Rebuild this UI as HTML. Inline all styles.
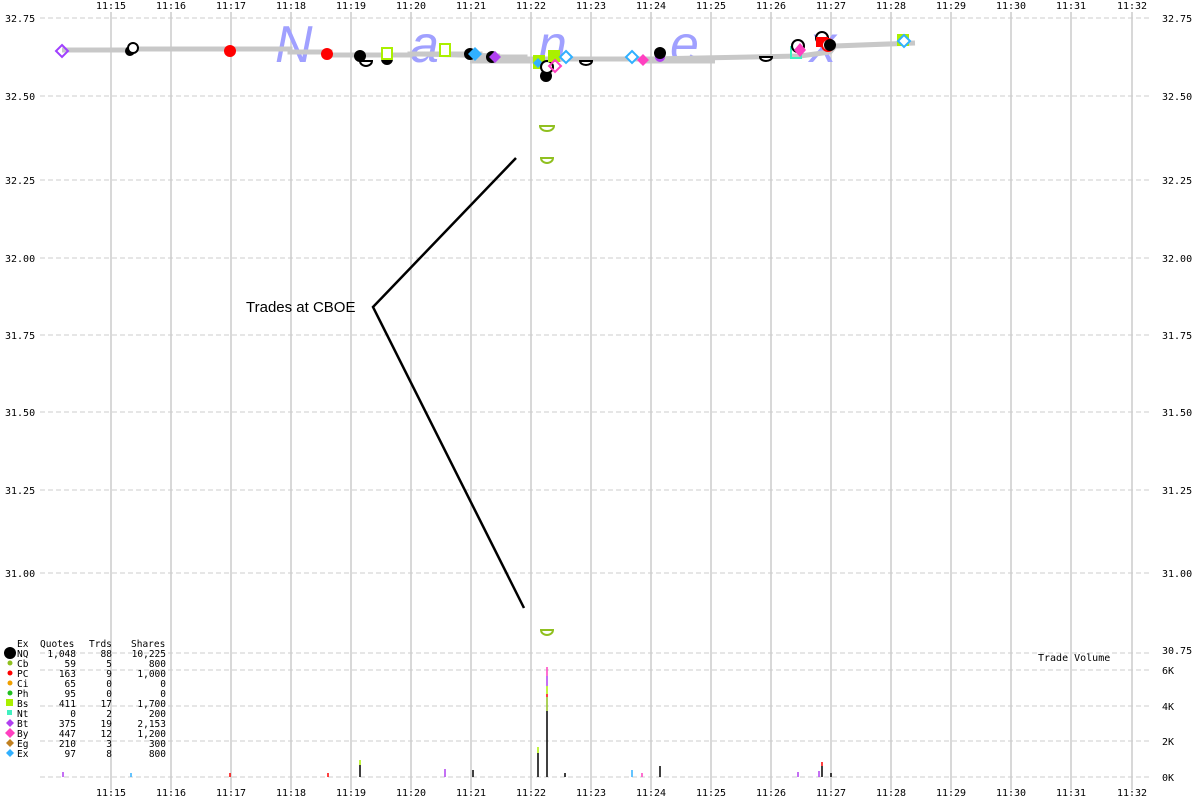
<!DOCTYPE html>
<html><head><meta charset="utf-8"><style>
body{margin:0;background:#fff;}
svg{display:block;font-family:"DejaVu Sans Mono","Liberation Mono",monospace;}
</style></head><body>
<svg width="1200" height="800" viewBox="0 0 1200 800" xmlns="http://www.w3.org/2000/svg">
<rect width="1200" height="800" fill="#fff"/>
<g stroke="#ccc" stroke-width="1.5">
<line x1="111" y1="12" x2="111" y2="790"/><line x1="171" y1="12" x2="171" y2="790"/><line x1="231" y1="12" x2="231" y2="790"/><line x1="291" y1="12" x2="291" y2="790"/><line x1="351" y1="12" x2="351" y2="790"/><line x1="411" y1="12" x2="411" y2="790"/><line x1="471" y1="12" x2="471" y2="790"/><line x1="531" y1="12" x2="531" y2="790"/><line x1="591" y1="12" x2="591" y2="790"/><line x1="651" y1="12" x2="651" y2="790"/><line x1="711" y1="12" x2="711" y2="790"/><line x1="771" y1="12" x2="771" y2="790"/><line x1="831" y1="12" x2="831" y2="790"/><line x1="891" y1="12" x2="891" y2="790"/><line x1="951" y1="12" x2="951" y2="790"/><line x1="1011" y1="12" x2="1011" y2="790"/><line x1="1071" y1="12" x2="1071" y2="790"/><line x1="1132" y1="12" x2="1132" y2="790"/>
</g>
<g stroke="#ccc" stroke-width="1" stroke-dasharray="5,3">
<line x1="40" y1="18" x2="1152" y2="18"/><line x1="40" y1="96" x2="1152" y2="96"/><line x1="40" y1="180" x2="1152" y2="180"/><line x1="40" y1="258" x2="1152" y2="258"/><line x1="40" y1="335" x2="1152" y2="335"/><line x1="40" y1="412" x2="1152" y2="412"/><line x1="40" y1="490" x2="1152" y2="490"/><line x1="40" y1="573" x2="1152" y2="573"/><line x1="40" y1="653" x2="1152" y2="653"/>
<line x1="40" y1="670" x2="1152" y2="670"/><line x1="40" y1="706" x2="1152" y2="706"/><line x1="40" y1="741" x2="1152" y2="741"/><line x1="40" y1="777" x2="1152" y2="777"/>
</g>
<g font-size="10" fill="#000" text-anchor="middle">
<text x="111" y="9">11:15</text><text x="171" y="9">11:16</text><text x="231" y="9">11:17</text><text x="291" y="9">11:18</text><text x="351" y="9">11:19</text><text x="411" y="9">11:20</text><text x="471" y="9">11:21</text><text x="531" y="9">11:22</text><text x="591" y="9">11:23</text><text x="651" y="9">11:24</text><text x="711" y="9">11:25</text><text x="771" y="9">11:26</text><text x="831" y="9">11:27</text><text x="891" y="9">11:28</text><text x="951" y="9">11:29</text><text x="1011" y="9">11:30</text><text x="1071" y="9">11:31</text><text x="1132" y="9">11:32</text>
<text x="111" y="796">11:15</text><text x="171" y="796">11:16</text><text x="231" y="796">11:17</text><text x="291" y="796">11:18</text><text x="351" y="796">11:19</text><text x="411" y="796">11:20</text><text x="471" y="796">11:21</text><text x="531" y="796">11:22</text><text x="591" y="796">11:23</text><text x="651" y="796">11:24</text><text x="711" y="796">11:25</text><text x="771" y="796">11:26</text><text x="831" y="796">11:27</text><text x="891" y="796">11:28</text><text x="951" y="796">11:29</text><text x="1011" y="796">11:30</text><text x="1071" y="796">11:31</text><text x="1132" y="796">11:32</text>
</g>
<g font-size="10" fill="#000">
<text x="5" y="22">32.75</text><text x="5" y="100">32.50</text><text x="5" y="184">32.25</text><text x="5" y="262">32.00</text><text x="5" y="339">31.75</text><text x="5" y="416">31.50</text><text x="5" y="494">31.25</text><text x="5" y="577">31.00</text>
<text x="1162" y="22">32.75</text><text x="1162" y="100">32.50</text><text x="1162" y="184">32.25</text><text x="1162" y="262">32.00</text><text x="1162" y="339">31.75</text><text x="1162" y="416">31.50</text><text x="1162" y="494">31.25</text><text x="1162" y="577">31.00</text><text x="1162" y="654">30.75</text>
<text x="1162" y="674">6K</text><text x="1162" y="710">4K</text><text x="1162" y="745">2K</text><text x="1162" y="781">0K</text>
<text x="1038" y="661">Trade Volume</text>
</g>
<g font-family="Liberation Sans,sans-serif" font-style="italic" font-size="52" fill="#a0a0ff">
<text x="275" y="62">N</text><text x="410" y="62">a</text><text x="538" y="62">n</text><text x="670" y="62">e</text><text x="810" y="62">x</text>
</g>
<g stroke="#c8c8c8" stroke-width="5" fill="none">
<polyline points="62,50 130,50 130,49 290,49 290,52 330,52 330,55 410,55 410,54 480,54 480,57 525,57 525,59 650,59 700,58 800,56 830,52 835,46 915,43"/>
<line x1="420" y1="54" x2="500" y2="56"/><line x1="640" y1="61" x2="715" y2="61"/><line x1="470" y1="61" x2="540" y2="61"/>
</g>
<g stroke="#000" stroke-width="2.5" fill="none">
<polyline points="516,158 373,307 524,608"/>
</g>
<text x="246" y="312" font-family="Liberation Sans,sans-serif" font-size="15" fill="#000">Trades at CBOE</text>
<g stroke-width="2">
<path d="M62,45 L68,51 L62,57 L56,51Z" fill="none" stroke="#a040ff"/>
<circle cx="130" cy="51" r="5" fill="#000"/><circle cx="133" cy="48" r="5" fill="#fff" stroke="#000"/>
<circle cx="230" cy="51" r="6" fill="#f00"/><circle cx="327" cy="54" r="6" fill="#f00"/>
<circle cx="360" cy="56" r="6" fill="#000"/><path d="M360,61 a6,5 0 0 0 12,0Z" fill="#fff" stroke="#000"/>
<circle cx="387" cy="59" r="6" fill="#000"/><rect x="382" y="48" width="10" height="11" fill="#fff" stroke="#aaf000"/>
<rect x="440" y="44" width="10" height="12" fill="#fff" stroke="#aaf000"/>
<circle cx="470" cy="54" r="6" fill="#000"/><path d="M475,47 L482,54 L475,61 L468,54Z" fill="#30b0ff"/>
<circle cx="492" cy="57" r="6" fill="#000"/><path d="M495,51 L501,57 L495,63 L489,57Z" fill="#b040f0"/>
<rect x="533" y="55" width="12" height="14" fill="#aaf000"/><path d="M538,58 L543,63 L538,68 L533,63Z" fill="#30b0ff"/>
<circle cx="546" cy="76" r="6" fill="#000"/><circle cx="547" cy="67" r="6" fill="#fff" stroke="#000"/>
<rect x="548" y="50" width="12" height="12" fill="#aaf000"/><path d="M555,60 L561,66 L555,72 L549,66Z" fill="none" stroke="#ff40c0"/>
<path d="M566,51 L572,57 L566,63 L560,57Z" fill="#fff" stroke="#30b0ff"/>
<path d="M580,61 a6,4 0 0 0 12,0Z" fill="#fff" stroke="#000"/>
<path d="M632,51 L638,57 L632,63 L626,57Z" fill="#fff" stroke="#30b0ff"/>
<path d="M643,54 L649,60 L643,66 L637,60Z" fill="#ff40c0"/>
<circle cx="660" cy="57" r="5" fill="#b040f0"/><circle cx="660" cy="53" r="6" fill="#000"/>
<path d="M760,57 a6,4 0 0 0 12,0Z" fill="#fff" stroke="#000"/>
<rect x="791" y="47" width="10" height="11" fill="none" stroke="#40f0c0"/><circle cx="798" cy="46" r="6" fill="#fff" stroke="#000"/><path d="M800,43 L806,50 L800,57 L794,50Z" fill="#ff40c0"/>
<circle cx="822" cy="38" r="6" fill="#fff" stroke="#000"/><rect x="816" y="37" width="12" height="10" fill="#f00"/><circle cx="828" cy="45" r="6" fill="#fff" stroke="#f00"/><circle cx="830" cy="45" r="6" fill="#000"/>
<rect x="897" y="34" width="12" height="12" fill="#aaf000"/><path d="M904,35 L910,41 L904,47 L898,41Z" fill="#fff" stroke="#30b0ff"/>
<path d="M540,126 h14 a7,5 0 0 1 -14,0Z" fill="none" stroke="#90c020"/>
<path d="M541,158 h12 a6,5 0 0 1 -12,0Z" fill="none" stroke="#90c020"/>
<path d="M541,630 h12 a6,5 0 0 1 -12,0Z" fill="none" stroke="#90c020"/>
</g>
<g stroke-width="1.5">
<line x1="547" y1="777" x2="547" y2="711" stroke="#000"/><line x1="547" y1="711" x2="547" y2="697" stroke="#90c020"/><line x1="547" y1="697" x2="547" y2="694" stroke="#f00"/><line x1="547" y1="694" x2="547" y2="686" stroke="#aaf000"/><line x1="547" y1="686" x2="547" y2="676" stroke="#b040f0"/><line x1="547" y1="676" x2="547" y2="667" stroke="#ff40c0"/>
<line x1="538" y1="777" x2="538" y2="753" stroke="#000"/><line x1="538" y1="753" x2="538" y2="747" stroke="#aaf000"/>
<line x1="360" y1="777" x2="360" y2="765" stroke="#000"/><line x1="360" y1="765" x2="360" y2="760" stroke="#aaf000"/>
<line x1="660" y1="777" x2="660" y2="766" stroke="#000"/><line x1="822" y1="777" x2="822" y2="766" stroke="#000"/><line x1="822" y1="766" x2="822" y2="762" stroke="#f00"/>
<line x1="63" y1="777" x2="63" y2="772" stroke="#b040f0"/><line x1="131" y1="777" x2="131" y2="773" stroke="#30b0ff"/><line x1="230" y1="777" x2="230" y2="773" stroke="#f00"/><line x1="328" y1="777" x2="328" y2="773" stroke="#f00"/>
<line x1="445" y1="777" x2="445" y2="769" stroke="#b040f0"/><line x1="473" y1="777" x2="473" y2="770" stroke="#000"/><line x1="632" y1="777" x2="632" y2="770" stroke="#30b0ff"/><line x1="642" y1="777" x2="642" y2="773" stroke="#ff40c0"/><line x1="798" y1="777" x2="798" y2="772" stroke="#b040f0"/><line x1="819" y1="777" x2="819" y2="771" stroke="#b040f0"/><line x1="831" y1="777" x2="831" y2="773" stroke="#000"/><line x1="565" y1="777" x2="565" y2="773" stroke="#000"/>
</g>
<g font-size="9.5" fill="#000">
<text x="17" y="647">Ex</text><text x="40" y="647">Quotes</text><text x="89" y="647">Trds</text><text x="131" y="647">Shares</text>
<g text-anchor="end">
<text x="76" y="657">1,048</text><text x="112" y="657">88</text><text x="166" y="657">10,225</text>
<text x="76" y="667">59</text><text x="112" y="667">5</text><text x="166" y="667">800</text>
<text x="76" y="677">163</text><text x="112" y="677">9</text><text x="166" y="677">1,000</text>
<text x="76" y="687">65</text><text x="112" y="687">0</text><text x="166" y="687">0</text>
<text x="76" y="697">95</text><text x="112" y="697">0</text><text x="166" y="697">0</text>
<text x="76" y="707">411</text><text x="112" y="707">17</text><text x="166" y="707">1,700</text>
<text x="76" y="717">0</text><text x="112" y="717">2</text><text x="166" y="717">200</text>
<text x="76" y="727">375</text><text x="112" y="727">19</text><text x="166" y="727">2,153</text>
<text x="76" y="737">447</text><text x="112" y="737">12</text><text x="166" y="737">1,200</text>
<text x="76" y="747">210</text><text x="112" y="747">3</text><text x="166" y="747">300</text>
<text x="76" y="757">97</text><text x="112" y="757">8</text><text x="166" y="757">800</text>
</g>
<text x="17" y="657">NQ</text><text x="17" y="667">Cb</text><text x="17" y="677">PC</text><text x="17" y="687">Ci</text><text x="17" y="697">Ph</text><text x="17" y="707">Bs</text><text x="17" y="717">Nt</text><text x="17" y="727">Bt</text><text x="17" y="737">By</text><text x="17" y="747">Eg</text><text x="17" y="757">Ex</text>
</g>
<circle cx="10" cy="653" r="6" fill="#000"/>
<circle cx="10" cy="663" r="2.5" fill="#90c020"/><circle cx="10" cy="673" r="2.5" fill="#f00"/><circle cx="10" cy="683" r="2.5" fill="#f0a000"/><circle cx="10" cy="693" r="2.5" fill="#20c020"/>
<rect x="6" y="699" width="7" height="7" fill="#aaf000"/><rect x="7" y="710" width="5" height="5" fill="#40f0c0"/>
<path d="M10,719 L14,723 L10,727 L6,723Z" fill="#b040f0"/><path d="M10,728 L15,733 L10,738 L5,733Z" fill="#ff40c0"/><path d="M10,739 L14,743 L10,747 L6,743Z" fill="#c08020"/><path d="M10,749 L14,753 L10,757 L6,753Z" fill="#30b0ff"/>
</svg>
</body></html>
